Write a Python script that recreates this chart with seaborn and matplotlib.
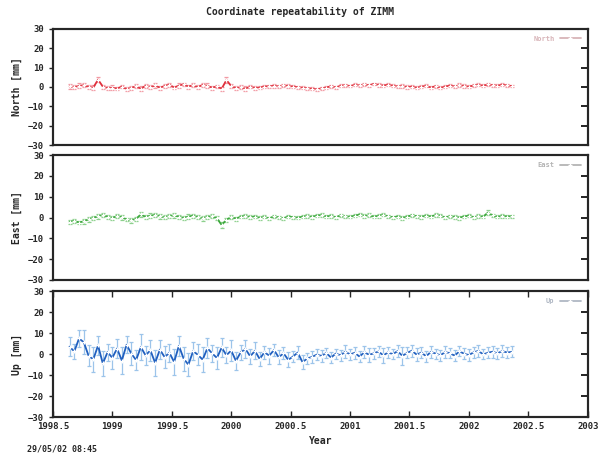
import matplotlib
matplotlib.use("Agg")
import matplotlib.pyplot as plt
import seaborn as sns
import pandas as pd
from matplotlib.ticker import FuncFormatter

# epochs (decimal year) and coordinate residuals [mm]
epoch = [1998.64, 1998.68, 1998.72, 1998.76, 1998.80, 1998.84, 1998.88, 1998.92, 1998.96, 1999.00,
         1999.04, 1999.08, 1999.12, 1999.16, 1999.20, 1999.24, 1999.28, 1999.32, 1999.36, 1999.40,
         1999.44, 1999.48, 1999.52, 1999.56, 1999.60, 1999.64, 1999.68, 1999.72, 1999.76, 1999.80,
         1999.84, 1999.88, 1999.92, 1999.96, 2000.00, 2000.04, 2000.08, 2000.12, 2000.16, 2000.20,
         2000.24, 2000.28, 2000.32, 2000.36, 2000.40, 2000.44, 2000.48, 2000.52, 2000.56, 2000.60,
         2000.64, 2000.68, 2000.72, 2000.76, 2000.80, 2000.84, 2000.88, 2000.92, 2000.96, 2001.00,
         2001.04, 2001.08, 2001.12, 2001.16, 2001.20, 2001.24, 2001.28, 2001.32, 2001.36, 2001.40,
         2001.44, 2001.48, 2001.52, 2001.56, 2001.60, 2001.64, 2001.68, 2001.72, 2001.76, 2001.80,
         2001.84, 2001.88, 2001.92, 2001.96, 2002.00, 2002.04, 2002.08, 2002.12, 2002.16, 2002.20,
         2002.24, 2002.28, 2002.32, 2002.36]

north = [0.3, -0.2, 0.6, 0.9, 0.1, -0.3, 3.8, 0.2, -0.6, -0.4,
         -0.8, 0.2, -1.1, -0.5, 0.4, -0.9, 0.6, -0.2, 0.8, -0.4,
         0.5, 1.2, -0.3, 0.7, 1.4, 0.2, 0.9, -0.1, 1.1, 0.6,
         -0.4, 0.3, -0.9, 3.6, 0.5, -0.6, -0.2, -0.8, 0.1, -0.5,
         -0.3, 0.2, 0.4, 0.6, 0.3, 0.8, 0.5, 0.2, -0.1, -0.4,
         -0.6, -0.9, -1.2, -0.7, -0.3, 0.4, -0.2, 0.6, 0.9, 0.5,
         1.1, 0.8, 1.3, 0.9, 1.6, 1.0, 0.7, 1.2, 0.6, 0.3,
         0.5, -0.1, 0.2, -0.4, 0.1, 0.6, -0.3, 0.4, -0.5, 0.2,
         0.7, 0.3, 0.9, 0.5, 0.1, 0.8, 1.1, 0.6, 1.3, 0.9,
         0.6, 1.2, 0.8, 0.5]
north_err = [1.2, 1.0, 1.3, 1.1, 0.9, 1.2, 1.4, 1.0, 1.1, 1.2,
             1.0, 0.9, 1.1, 1.2, 1.0, 1.3, 0.9, 1.0, 1.1, 1.0,
             0.9, 1.1, 1.0, 1.2, 0.9, 1.0, 1.1, 0.9, 1.0, 1.2,
             1.0, 0.9, 1.1, 1.3, 1.0, 0.9, 1.0, 1.1, 0.8, 0.9,
             0.8, 0.9, 0.8, 1.0, 0.8, 0.9, 0.8, 0.7, 0.8, 0.9,
             0.8, 0.7, 0.9, 0.8, 0.7, 0.8, 0.9, 0.7, 0.8, 0.7,
             0.8, 0.7, 0.9, 0.8, 0.7, 0.8, 0.7, 0.9, 0.8, 0.7,
             0.8, 0.9, 0.7, 0.8, 0.7, 0.8, 0.9, 0.7, 0.8, 0.7,
             0.8, 0.7, 0.9, 0.8, 0.7, 0.8, 0.7, 0.8, 0.9, 0.7,
             0.8, 0.7, 0.8, 0.7]

east = [-2.1, -1.6, -2.4, -1.8, -0.9, -0.2, 0.6, 1.2, 0.4, -0.3,
        0.8, 0.2, -0.9, -1.4, -0.6, 1.5, 0.3, 0.9, 1.3, 0.6,
        0.1, 0.7, 1.0, 0.4, -0.2, 0.5, 0.9, 0.2, -0.4, 0.3,
        0.6, -0.3, -3.6, -1.0, 0.2, -0.5, 0.4, 0.8, 0.1, 0.5,
        -0.2, 0.3, -0.4, 0.6, 0.1, -0.3, 0.5, 0.2, -0.1, 0.4,
        0.7, 0.3, 0.9, 1.2, 0.5, 0.8, 0.2, 1.0, 0.6, 0.3,
        0.9, 1.4, 0.7, 1.1, 0.4, 0.8, 1.3, 0.6, 0.2, 0.5,
        -0.2, 0.4, 1.1, 0.7, 0.3, 0.9, 0.5, 1.2, 0.8, 0.1,
        0.6, 0.3, -0.1, 0.5, 0.9, 0.2, 0.7, 0.4, 2.4, 1.0,
        0.3, 0.8, 0.5, 0.6]
east_err = [1.0, 1.1, 0.9, 1.2, 1.0, 1.1, 1.3, 1.0, 0.9, 1.1,
            1.0, 1.2, 0.9, 1.0, 1.1, 1.0, 0.9, 1.1, 1.0, 1.2,
            0.9, 1.0, 1.1, 0.9, 1.0, 1.1, 0.9, 1.0, 1.2, 0.9,
            1.0, 1.1, 1.3, 1.0, 0.9, 1.0, 0.8, 0.9, 1.0, 0.8,
            0.8, 0.7, 0.9, 0.8, 0.7, 0.8, 0.9, 0.7, 0.8, 0.7,
            0.8, 0.9, 0.7, 0.8, 0.7, 0.8, 0.7, 0.9, 0.8, 0.7,
            0.8, 0.7, 0.8, 0.9, 0.7, 0.8, 0.7, 0.8, 0.7, 0.9,
            0.8, 0.7, 0.8, 0.7, 0.9, 0.8, 0.7, 0.8, 0.7, 0.8,
            0.7, 0.8, 0.9, 0.7, 0.8, 0.7, 0.8, 0.7, 1.1, 0.8,
            0.7, 0.8, 0.7, 0.8]

up = [3.5, 1.2, 7.4, 5.6, -0.8, -2.6, 4.1, -4.5, 0.9, -1.8,
      2.6, -3.1, 4.4, 0.2, -2.9, 3.3, -0.7, 1.8, -4.2, 2.1,
      -1.5, 0.6, -3.8, 3.9, -2.2, -5.1, 1.4, -0.4, -2.7, 2.8,
      0.3, -1.9, 3.1, -0.6, 1.7, -3.3, 0.8, 2.4, -1.1, 1.5,
      -2.4, 0.9, -0.8, 1.9, -1.6, 0.4, -2.8, -1.2, 0.7, -3.9,
      -2.1, -1.4, -0.3, -0.9, 0.5, -1.7, 0.2, -0.6, 1.1, -0.2,
      0.6, -1.3, 0.9, -0.4, 0.3, 1.2, -0.7, 0.8, -0.1, 1.4,
      -0.9, 0.5, 1.6, -0.3, 0.7, -1.1, 1.0, 0.2, -0.6, 0.9,
      0.4, -0.8, 1.3, 0.1, -0.5, 0.8, 1.5, -0.2, 0.6, 1.1,
      0.3, 1.4, 0.7, 1.0]
up_err = [4.5, 3.8, 4.2, 5.6, 4.9, 6.1, 4.4, 5.8, 4.0, 5.2,
          4.7, 6.3, 4.1, 5.5, 4.8, 6.0, 4.3, 5.1, 6.2, 4.6,
          5.4, 4.2, 6.4, 4.9, 5.7, 5.5, 4.4, 5.0, 6.1, 4.7,
          4.1, 5.3, 4.6, 3.9, 4.8, 4.2, 3.7, 4.5, 3.6, 4.0,
          3.5, 3.1, 3.8, 2.9, 3.3, 3.0, 3.6, 2.8, 3.2, 3.4,
          2.7, 3.0, 2.6, 2.9, 2.5, 2.8, 2.4, 2.7, 3.0, 2.6,
          2.8, 2.5, 2.9, 3.2, 2.6, 2.8, 3.6, 2.7, 2.5, 2.9,
          4.2, 2.6, 2.8, 3.1, 2.5, 2.7, 2.9, 2.4, 2.6, 2.8,
          2.5, 2.7, 2.4, 2.6, 2.9, 2.5, 2.7, 2.4, 2.6, 2.8,
          2.5, 2.7, 2.4, 2.6]

# name, values, errors, line colour, bar colour, cap colour, legend colour
panels = [("North", north, north_err, "#e0303c", "#f29aa4", "#d04050", "#d8b4b8"),
          ("East", east, east_err, "#3aa83a", "#8cd08c", "#3a8a3a", "#b4b4b4"),
          ("Up", up, up_err, "#1f5fbf", "#9cc4ea", "#2a3f6a", "#b0b8c4")]

sns.set_style("white")
plt.rcParams["font.family"] = ["DejaVu Sans Mono", "DejaVu Sans"]
plt.rcParams["font.weight"] = "bold"

fig = plt.figure(figsize=(6.01, 4.59), dpi=100)
rects = [[0.088, 0.684, 0.890, 0.253],
         [0.088, 0.390, 0.890, 0.272],
         [0.088, 0.0915, 0.890, 0.2745]]

for (name, vals, errs, col, ecol, ccol, lcol), rect in zip(panels, rects):
    ax = fig.add_axes(rect)
    df = pd.DataFrame({"Year": epoch, "val": vals, "err": errs})
    eb = ax.errorbar(df["Year"], df["val"], yerr=df["err"], fmt="none",
                     ecolor=ecol, elinewidth=0.9, capsize=1.3, capthick=0.9)
    for cap in eb[1]:
        cap.set_color(ccol)
    sns.lineplot(data=df, x="Year", y="val", ax=ax, color=col, lw=1.3,
                 marker="+", markersize=3, markeredgewidth=0.9, label=name)
    ax.set_xlim(1998.5, 2003)
    ax.set_ylim(-30, 30)
    ax.set_yticks(range(-30, 31, 10))
    ax.set_ylabel(f"{name} [mm]", fontsize=7, fontweight="bold")
    ax.set_xlabel("")
    ax.tick_params(axis="y", labelsize=6.5, length=3, width=1, direction="out",
                   left=True)
    for sp in ax.spines.values():
        sp.set_linewidth(1.5)
        sp.set_color("black")
    leg = ax.legend(loc="upper right", frameon=False, fontsize=5,
                    handlelength=3, labelcolor=lcol, markerfirst=False,
                    borderaxespad=0.6)
    for ln in leg.get_lines():
        ln.set_color(lcol)
    if name == "Up":
        ax.set_xticks([1998.5 + 0.5 * i for i in range(10)])
        ax.xaxis.set_major_formatter(FuncFormatter(lambda v, p: f"{v:g}"))
        ax.tick_params(axis="x", labelsize=6.5, length=4, width=1, top=True,
                       bottom=True, direction="in")
        ax.set_xlabel("Year", fontsize=7, fontweight="bold")
    else:
        ax.set_xticks([])

    # inward ticks on the right-hand frame
    rax = ax.twinx()
    rax.set_ylim(-30, 30)
    rax.set_yticks(range(-30, 31, 10))
    rax.tick_params(axis="y", which="major", length=5, width=1.2,
                    direction="in", right=True, labelright=False,
                    left=False, color="black")
    for sp in rax.spines.values():
        sp.set_linewidth(1.5)

fig.text(0.5, 0.985, "Coordinate repeatability of ZIMM", ha="center", va="top",
         fontsize=7, fontweight="bold")
fig.text(0.045, 0.012, "29/05/02 08:45", ha="left", va="bottom",
         fontsize=6, fontweight="bold")

fig.savefig("out.png", dpi=100)
